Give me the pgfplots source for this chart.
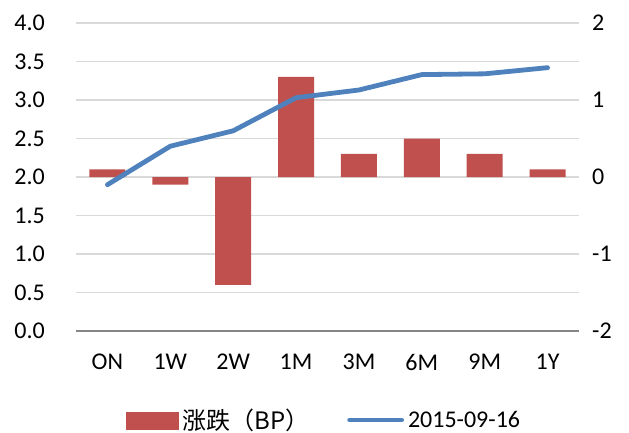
\documentclass[border=0pt]{standalone}
\usepackage{fontspec}
\setmainfont{Carlito}
\newfontfamily\cjk{Noto Sans CJK SC}
\usepackage{pgfplots}
\pgfplotsset{compat=1.18}
\definecolor{barred}{HTML}{C0504D}
\definecolor{lineblue}{HTML}{4F81BD}
\definecolor{gridgray}{HTML}{D9D9D9}
\definecolor{axisgray}{HTML}{868686}
\begin{document}
\begin{tikzpicture}
\useasboundingbox (0,0) rectangle (629pt,432pt);
\begin{axis}[at={(76pt,101pt)}, anchor=south west, scale only axis,
  width=503pt, height=308pt,
  xmin=-0.5, xmax=7.5, ymin=-2, ymax=2,
  axis line style={draw=none}, tick style={draw=none},
  xtick=\empty,
  ytick={-2,-1,0,1,2}, yticklabels={-2,-1,0,1,2},
  minor ytick={-1.5,-0.5,0.5,1.5},
  yticklabel pos=right,
  ymajorgrids, yminorgrids,
  major grid style={draw=gridgray, line width=1.3pt},
  minor grid style={draw=gridgray, line width=1.3pt},
  extra y ticks={-2}, extra y tick labels={},
  extra y tick style={major grid style={draw=axisgray, line width=1.3pt}},
  major tick length=0pt, minor tick length=0pt,
  yticklabel style={anchor=west, inner sep=0pt, xshift=13pt, font=\fontsize{24}{28}\selectfont},
  clip=false]
\addplot[ybar, bar width=36pt, fill=barred, draw=none] coordinates {(0,0.1)(1,-0.1)(2,-1.4)(3,1.3)(4,0.3)(5,0.5)(6,0.3)(7,0.1)};
\end{axis}
\begin{axis}[at={(76pt,101pt)}, anchor=south west, scale only axis,
  width=503pt, height=308pt,
  xmin=-0.5, xmax=7.5, ymin=0, ymax=4,
  axis line style={draw=none}, tick style={draw=none},
  xtick={0,1,2,3,4,5,6,7},
  xticklabels={ON,1W,2W,1M,3M,6M,9M,1Y},
  ytick={0,0.5,1,1.5,2,2.5,3,3.5,4},
  yticklabels={0.0,0.5,1.0,1.5,2.0,2.5,3.0,3.5,4.0},
  yticklabel pos=left,
  major tick length=0pt,
  yticklabel style={anchor=east, inner sep=0pt, xshift=-31pt, font=\fontsize{24}{28}\selectfont},
  xticklabel style={anchor=north, inner sep=0pt, yshift=-23pt, font=\fontsize{24}{28}\selectfont},
  legend style={at={(0.495,-0.289)}, anchor=center, draw=none, fill=none,
    legend columns=2, font=\fontsize{24}{28}\selectfont,
    /tikz/every even column/.append style={column sep=34pt},
    nodes={inner xsep=4pt}},
  legend cell align=left,
  clip=false]
\addlegendimage{legend image code/.code={\fill[barred] (0pt,-9pt) rectangle (52pt,8pt);}}
\addlegendentry{\cjk 涨跌（BP）}
\addplot[lineblue, line width=4.8pt, line cap=round, line join=round,
  legend image code/.code={\draw[lineblue, line width=4.8pt, line cap=round] (0pt,0pt) -- (52pt,0pt);}]
  coordinates {(0,1.90)(1,2.40)(2,2.60)(3,3.03)(4,3.13)(5,3.33)(6,3.34)(7,3.42)};
\addlegendentry{2015-09-16}
\end{axis}
\end{tikzpicture}
\end{document}
